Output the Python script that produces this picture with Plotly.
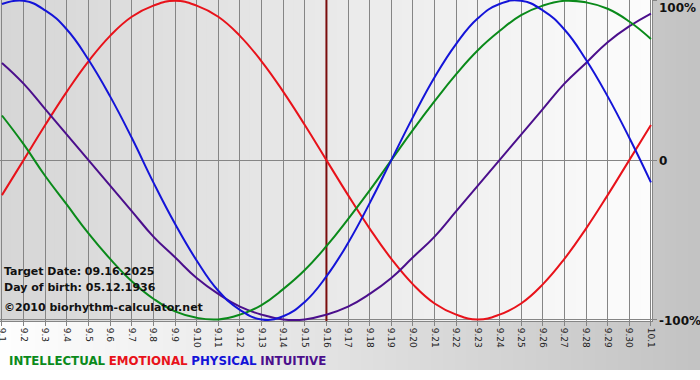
import plotly.graph_objects as go

# Days 9.1 .. 10.1 (2025)
tick_labels = ["9.%d" % d for d in range(1, 31)] + ["10.1"]
day_index = list(range(31))

intellectual = [0.28, 0.10, -0.10, -0.28, -0.46, -0.62, -0.76, -0.87, -0.95, -0.99,
                -1.00, -0.97, -0.91, -0.81, -0.69, -0.54, -0.37, -0.19, 0.00, 0.19,
                0.37, 0.54, 0.69, 0.81, 0.91, 0.97, 1.00, 0.99, 0.95, 0.87, 0.76]
emotional = [-0.22, 0.00, 0.22, 0.43, 0.62, 0.78, 0.90, 0.97, 1.00, 0.97,
             0.90, 0.78, 0.62, 0.43, 0.22, 0.00, -0.22, -0.43, -0.62, -0.78,
             -0.90, -0.97, -1.00, -0.97, -0.90, -0.78, -0.62, -0.43, -0.22, 0.00, 0.22]
physical = [0.98, 1.00, 0.94, 0.82, 0.63, 0.40, 0.14, -0.14, -0.40, -0.63,
            -0.82, -0.94, -1.00, -0.98, -0.89, -0.73, -0.52, -0.27, 0.00, 0.27,
            0.52, 0.73, 0.89, 0.98, 1.00, 0.94, 0.82, 0.63, 0.40, 0.14, -0.14]
intuitive = [0.61, 0.48, 0.32, 0.16, 0.00, -0.16, -0.32, -0.48, -0.61, -0.74,
             -0.84, -0.92, -0.97, -1.00, -1.00, -0.97, -0.92, -0.84, -0.74, -0.61,
             -0.48, -0.32, -0.16, 0.00, 0.16, 0.32, 0.48, 0.61, 0.74, 0.84, 0.92]
target_index = 15  # 9.16

y_tick_vals = [1, 0, -1]
y_tick_text = ["100%", "0", "-100%"]
y_range = [-1.01, 1.005]

series = [
    ("INTELLECTUAL", intellectual, "#0a8a1a"),
    ("EMOTIONAL", emotional, "#e8121a"),
    ("PHYSICAL", physical, "#1414d8"),
    ("INTUITIVE", intuitive, "#4b0f8c"),
]

W, H = 700, 380
ML, MR, MT, MB = 0, 48, 0, 59
PW, PH = W - ML - MR, H - MT - MB


def px_x(p):
    return (p - ML) / PW


def px_y(p):
    return (H - MB - p) / PH


def lerp_hex(c0, c1, t):
    v = round(c0 + (c1 - c0) * t)
    return "#%02x%02x%02x" % (v, v, v)


fig = go.Figure()

# target date marker line (drawn first, beneath the curves)
fig.add_trace(go.Scatter(x=[target_index, target_index], y=y_range, mode="lines",
                         line=dict(color="#7a0c0c", width=2), showlegend=False,
                         hoverinfo="skip", cliponaxis=True))

for name, vals, col in [series[1], series[3], series[0], series[2]]:
    fig.add_trace(go.Scatter(x=day_index, y=vals, mode="lines", name=name,
                             line=dict(color=col, width=2, shape="spline", smoothing=1.3),
                             showlegend=False, hoverinfo="skip"))

shapes = []
N = 60
# outer background gradient (below plot and right side)
for i in range(N):
    t0, t1 = i / N, (i + 1) / N
    shapes.append(dict(type="rect", xref="paper", yref="paper", layer="below",
                       x0=px_x(t0 * W), x1=px_x(t1 * W) + 0.002,
                       y0=px_y(370), y1=px_y(0),
                       fillcolor=lerp_hex(0xff, 0xc2, (t0 + t1) / 2), line=dict(width=0)))
# plot area gradient
for i in range(N):
    t0, t1 = i / N, (i + 1) / N
    shapes.append(dict(type="rect", xref="paper", yref="paper", layer="below",
                       x0=t0, x1=min(1, t1 + 0.002), y0=0, y1=1,
                       fillcolor=lerp_hex(0xd6, 0xfc, (t0 + t1) / 2), line=dict(width=0)))
fig.update_layout(shapes=shapes)

ann_font = dict(family="DejaVu Sans", size=11, color="#111111")
annotations = [
    dict(text="<b>Target Date: 09.16.2025</b>", x=px_x(2), y=px_y(271)),
    dict(text="<b>Day of birth: 05.12.1936</b>", x=px_x(2), y=px_y(287)),
    dict(text="<b>©2010 biorhythm-calculator.net</b>", x=px_x(2), y=px_y(307)),
]
for a in annotations:
    a.update(xref="paper", yref="paper", xanchor="left", yanchor="middle",
             showarrow=False, font=ann_font)

legend_html = " ".join('<span style="color:%s"><b>%s</b></span>' % (c, n) for n, _, c in series)
annotations.append(dict(text=legend_html, x=px_x(7), y=px_y(361), xref="paper", yref="paper",
                        xanchor="left", yanchor="middle", showarrow=False,
                        font=dict(family="DejaVu Sans", size=11.8)))
ylab_pos = {"100%": 8, "0": 161, "-100%": 321}
for v, t in zip(y_tick_vals, y_tick_text):
    annotations.append(dict(text="<b>%s</b>" % t, x=1, xshift=5, y=px_y(ylab_pos[t]),
                            xref="paper", yref="paper", xanchor="left", yanchor="middle",
                            showarrow=False, font=dict(family="DejaVu Sans", size=12, color="#111")))
fig.update_layout(annotations=annotations)

fig.update_layout(
    width=W, height=H,
    margin=dict(l=ML, r=MR, t=MT, b=MB),
    paper_bgcolor="#ffffff",
    plot_bgcolor="rgba(0,0,0,0)",
    xaxis=dict(range=[-0.09, 30.05], tickmode="array", tickvals=day_index, ticktext=tick_labels,
               tickangle=90, showgrid=True, gridcolor="#858585", gridwidth=1,
               ticks="outside", ticklen=4, tickcolor="#858585", ticklabeloverflow="allow",
               tickfont=dict(family="DejaVu Sans", size=9, color="#222222"),
               zeroline=False, showline=True, linecolor="#858585", linewidth=1, fixedrange=True,
               automargin=False),
    yaxis=dict(range=y_range, tickmode="array", tickvals=y_tick_vals, ticktext=["", "", ""],
               side="right", showgrid=True, gridcolor="#858585", gridwidth=1,
               ticks="outside", ticklen=4, tickcolor="#858585",
               zeroline=False, showline=True, linecolor="#858585", linewidth=1, fixedrange=True,
               automargin=False),
)

fig.write_html("out.html", config={"displayModeBar": False},
               post_script="document.body.style.margin='0';document.body.style.padding='0';")
